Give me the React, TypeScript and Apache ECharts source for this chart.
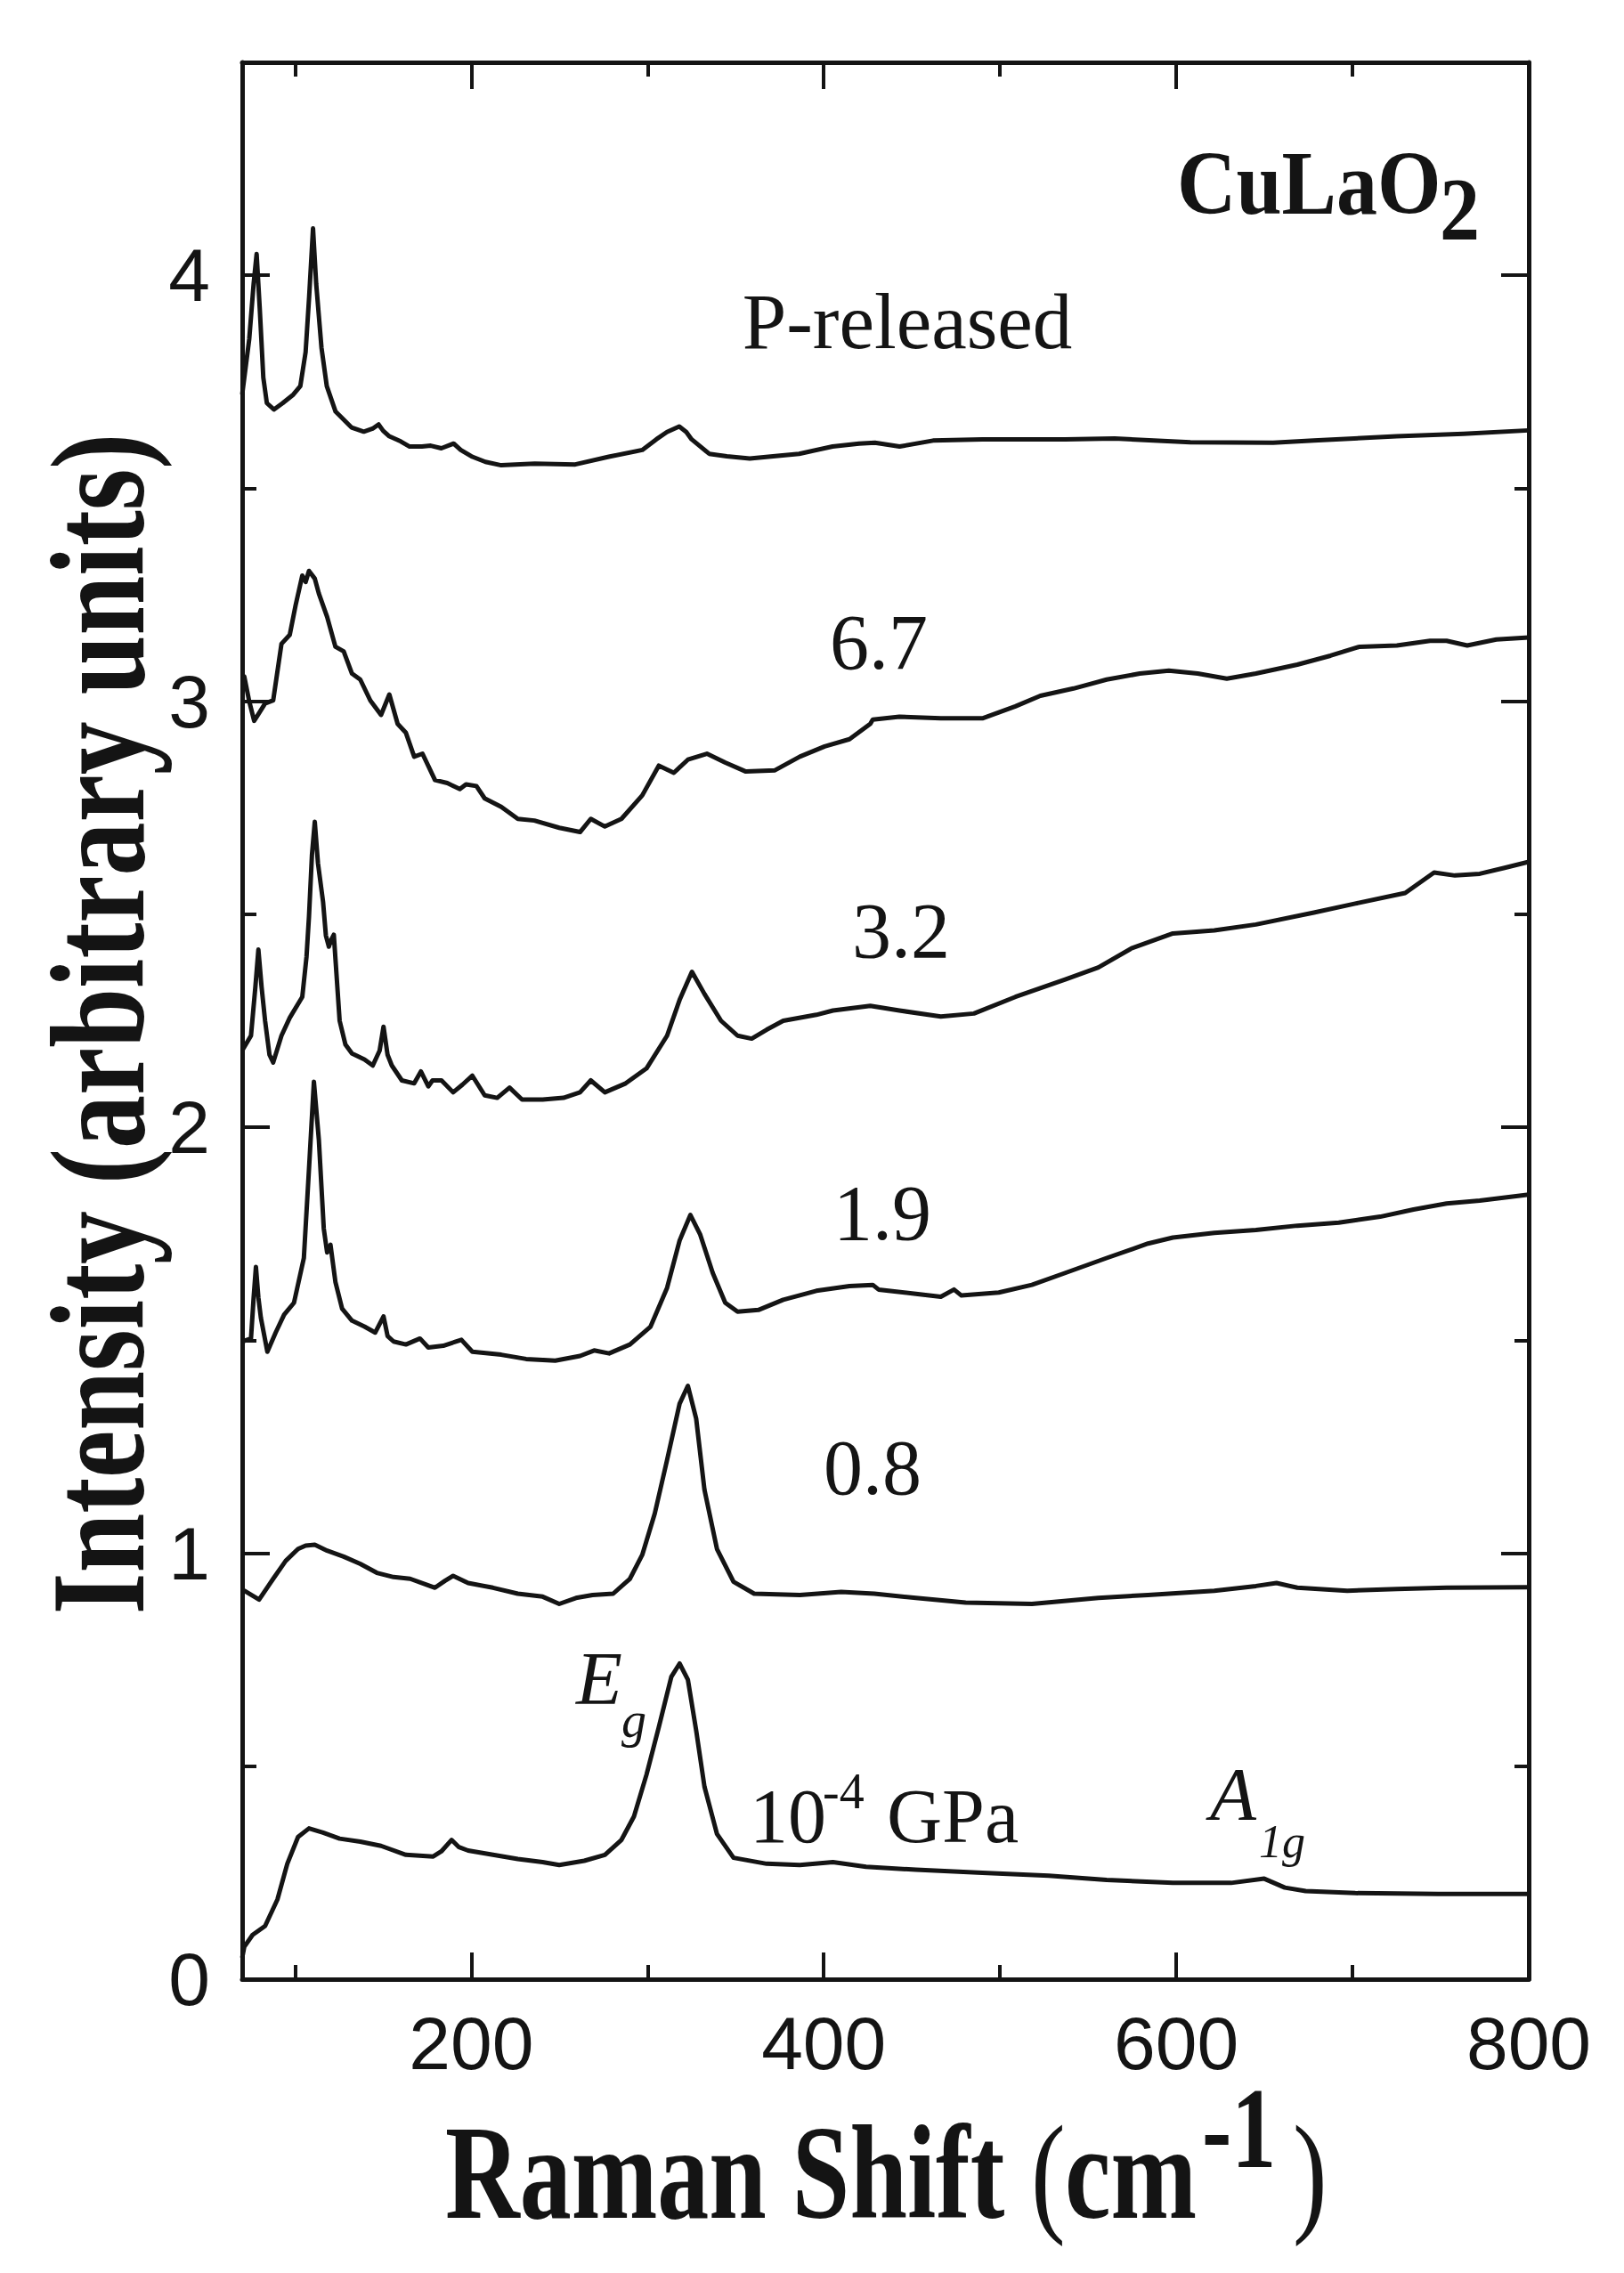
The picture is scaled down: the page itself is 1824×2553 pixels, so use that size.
import React, { useEffect, useRef } from "react";
import * as echarts from "echarts";

// ---- axes ----
const xMin = 70;
const xMax = 800;
const yMin = 0;
const yMax = 4.5;
const xLabelValues = [200, 400, 600, 800];
const xMajorTicks = [200, 400, 600];
const xMinorTicks = [100, 300, 500, 700];
const yLabelValues = [0, 1, 2, 3, 4];
const yMajorTicks = [1, 2, 3, 4];
const yMinorTicks = [0.5, 1.5, 2.5, 3.5];

// ---- spectra: [Raman shift (cm-1), intensity (a.u., offset)] ----
const pReleased = [
  [70, 3.72], [74, 3.85], [76.5, 3.98], [78.2, 4.05], [80, 3.92], [82, 3.76], [84, 3.7], [88, 3.685],
  [93, 3.7], [99, 3.72], [103, 3.74], [106, 3.82], [108, 3.95], [110.2, 4.11], [112, 3.98], [115, 3.83],
  [118, 3.74], [123, 3.68], [132, 3.643], [139, 3.633], [144, 3.64], [147.4, 3.65], [150, 3.635],
  [153.5, 3.622], [160, 3.61], [165, 3.598], [172, 3.598], [177, 3.6], [183, 3.594], [190, 3.605],
  [194, 3.59], [200.6, 3.574], [208, 3.562], [217, 3.554], [236, 3.558], [259, 3.556], [278, 3.574],
  [297, 3.59], [305, 3.615], [311, 3.632], [318, 3.645], [322, 3.632], [325, 3.615], [335, 3.581],
  [345, 3.575], [358, 3.57], [386, 3.581], [405, 3.598], [420, 3.605], [429, 3.607], [443, 3.598],
  [462, 3.612], [490, 3.615], [537, 3.615], [565, 3.617], [608, 3.608], [655, 3.607], [678, 3.612],
  [725, 3.622], [763, 3.628], [800, 3.636],
];

const p67 = [
  [70, 3.06], [71.2, 3.058], [74, 3.0], [76.8, 2.954], [80, 2.975], [83, 2.995], [87.6, 3.002],
  [92.3, 3.135], [97, 3.156], [100.3, 3.225], [104.1, 3.295], [106, 3.28], [107.9, 3.306], [111.2, 3.288],
  [113.5, 3.253], [118.2, 3.198], [122.9, 3.128], [127.6, 3.117], [132.3, 3.065], [137, 3.051],
  [142.7, 3.002], [148.8, 2.968], [153.5, 3.016], [158.2, 2.947], [162.9, 2.926], [167.6, 2.87],
  [172.3, 2.877], [179.4, 2.815], [186.4, 2.808], [193.5, 2.794], [197, 2.805], [202.9, 2.801],
  [207.6, 2.772], [217, 2.752], [226.4, 2.724], [235.8, 2.72], [249.9, 2.703], [261.7, 2.693],
  [267.8, 2.724], [275.8, 2.706], [285.2, 2.724], [297, 2.779], [306.4, 2.849], [314.9, 2.832],
  [322.9, 2.863], [333.7, 2.877], [344.1, 2.856], [355.8, 2.835], [372.3, 2.838], [386.4, 2.87],
  [400.5, 2.894], [414.6, 2.911], [426.4, 2.947], [427.8, 2.957], [442.9, 2.964], [466.4, 2.96],
  [490, 2.96], [508.7, 2.988], [522.9, 3.013], [541.7, 3.03], [560.5, 3.051], [579.3, 3.065],
  [595.8, 3.072], [612.2, 3.065], [628.7, 3.053], [645.2, 3.065], [668.7, 3.086], [687.5, 3.107],
  [704, 3.128], [725.2, 3.131], [744, 3.142], [753.4, 3.142], [765.1, 3.131], [781.6, 3.145], [800, 3.15],
];

const p32 = [
  [70, 2.18], [75, 2.215], [77.5, 2.33], [79.2, 2.417], [81, 2.33], [83, 2.25], [85.5, 2.17], [87.6, 2.152],
  [92.3, 2.215], [97, 2.257], [104.1, 2.306], [106.5, 2.4], [107.9, 2.494], [109.6, 2.64], [111.2, 2.717],
  [113, 2.62], [115.9, 2.529], [117.5, 2.45], [119.2, 2.424], [120.5, 2.44], [122, 2.452], [123.5, 2.36],
  [125.3, 2.25], [128.6, 2.194], [132.3, 2.173], [139.4, 2.159], [144.1, 2.145], [148, 2.18], [150.2, 2.236],
  [152.5, 2.17], [154.9, 2.145], [160.6, 2.11], [167.6, 2.103], [171.4, 2.131], [175.6, 2.096], [178, 2.11],
  [183.1, 2.11], [189.7, 2.082], [195, 2.1], [200.6, 2.121], [207.6, 2.075], [214.7, 2.069], [221.7, 2.093],
  [228.8, 2.065], [240.5, 2.065], [252.3, 2.069], [261.7, 2.082], [267.8, 2.11], [275.8, 2.082],
  [287.6, 2.103], [299.4, 2.138], [311.1, 2.215], [318.2, 2.299], [325.2, 2.365], [332.3, 2.313],
  [341.7, 2.25], [351.1, 2.215], [359.1, 2.208], [367.6, 2.229], [377, 2.25], [395.8, 2.264],
  [405.2, 2.274], [426.4, 2.285], [442.9, 2.274], [466.4, 2.26], [485.2, 2.267], [508.7, 2.306],
  [537, 2.347], [555.8, 2.375], [574.6, 2.42], [598.1, 2.455], [621.6, 2.462], [645.2, 2.476],
  [678.1, 2.504], [701.6, 2.525], [729.9, 2.55], [746.3, 2.598], [758.1, 2.591], [772.2, 2.595],
  [786.3, 2.609], [800, 2.623],
];

const p19 = [
  [70, 1.497], [75, 1.504], [76.5, 1.6], [77.8, 1.672], [79.2, 1.6], [80.6, 1.553], [84.3, 1.473],
  [89, 1.518], [93.8, 1.56], [99.4, 1.588], [105, 1.693], [107.9, 1.901], [110.7, 2.107], [113.5, 1.971],
  [116.3, 1.762], [118.2, 1.706], [120.1, 1.724], [122.9, 1.637], [126.7, 1.574], [132.3, 1.546],
  [139.4, 1.532], [145.5, 1.518], [150.2, 1.556], [152.5, 1.51], [155.9, 1.497], [162.9, 1.49],
  [170.9, 1.504], [175.6, 1.483], [184.1, 1.487], [194.4, 1.501], [200.6, 1.473], [217, 1.466],
  [231.1, 1.456], [247.6, 1.452], [261.7, 1.463], [269.7, 1.476], [278.2, 1.469], [290, 1.49],
  [301.7, 1.532], [311.1, 1.623], [318.2, 1.734], [324.3, 1.794], [329.9, 1.748], [337, 1.658],
  [344.1, 1.588], [351.1, 1.567], [362.9, 1.571], [377, 1.595], [395.8, 1.616], [414.6, 1.627],
  [427.8, 1.63], [431.1, 1.619], [452.3, 1.609], [466.4, 1.602], [473.9, 1.619], [478.1, 1.605],
  [499.3, 1.612], [518.1, 1.63], [537, 1.658], [560.5, 1.693], [584, 1.727], [598.1, 1.741],
  [621.6, 1.752], [645.2, 1.759], [668.7, 1.769], [692.2, 1.776], [715.7, 1.79], [734.6, 1.807],
  [753.4, 1.821], [772.2, 1.828], [800, 1.842],
];

const p08 = [
  [70, 0.912], [71.2, 0.912], [79.6, 0.891], [87.6, 0.94], [94.7, 0.982], [101.7, 1.01], [106, 1.018],
  [111.2, 1.02], [118.2, 1.006], [127.6, 0.992], [137, 0.975], [146.4, 0.954], [155.9, 0.944],
  [165.3, 0.94], [179.4, 0.919], [185, 0.935], [189.7, 0.947], [198.2, 0.93], [212.3, 0.919],
  [226.4, 0.905], [240.5, 0.898], [249.9, 0.881], [259.4, 0.895], [268.8, 0.902], [280.5, 0.905],
  [290, 0.94], [297, 0.996], [304.1, 1.093], [311.1, 1.219], [318.2, 1.351], [322.9, 1.393],
  [327.6, 1.316], [332.3, 1.149], [339.4, 1.01], [348.8, 0.933], [360.5, 0.905], [386.4, 0.902],
  [409.9, 0.909], [428.7, 0.905], [452.3, 0.895], [480.5, 0.884], [518.1, 0.881], [555.8, 0.895],
  [584, 0.902], [621.6, 0.912], [645.2, 0.923], [656.9, 0.93], [668.7, 0.919], [697, 0.912],
  [725.2, 0.916], [753.4, 0.919], [800, 0.92],
];

const pAmbient = [
  [70, 0.05], [71.2, 0.076], [75.9, 0.104], [83, 0.125], [90, 0.187], [95.6, 0.271], [101.7, 0.334],
  [107.9, 0.354], [115.9, 0.344], [125.3, 0.33], [137, 0.323], [148.8, 0.313], [162.9, 0.292],
  [178.4, 0.288], [183, 0.3], [188.8, 0.327], [193, 0.31], [198.2, 0.302], [212.3, 0.292],
  [226.4, 0.282], [240.5, 0.275], [249.9, 0.268], [264.1, 0.278], [275.8, 0.292], [285.2, 0.327],
  [292.3, 0.382], [299.4, 0.48], [306.4, 0.592], [313.5, 0.71], [318.2, 0.741], [322.9, 0.703],
  [327.6, 0.584], [332.3, 0.452], [339.4, 0.341], [348.8, 0.285], [367.6, 0.271], [386.4, 0.268],
  [405.2, 0.275], [424, 0.264], [452.3, 0.257], [490, 0.25], [527.6, 0.243], [560.5, 0.233],
  [598.1, 0.226], [631.1, 0.226], [649.9, 0.236], [661.6, 0.215], [673.4, 0.207], [701.6, 0.202],
  [748.7, 0.2], [800, 0.2],
];

const seriesNames = ["10-4 GPa", "0.8 GPa", "1.9 GPa", "3.2 GPa", "6.7 GPa", "P-released"];
const seriesData = [pAmbient, p08, p19, p32, p67, pReleased];

const INK = "#141414";
const SANS = "'Liberation Sans', Arial, sans-serif";
const SERIF = "'Liberation Serif', 'Times New Roman', serif";

function xAxisDef(position: string, showLine: boolean, ticks: number[], len: number, labels?: number[]) {
  return {
    type: "value",
    position,
    min: xMin,
    max: xMax,
    axisLine: { show: showLine, onZero: false, lineStyle: { color: INK, width: 5 } },
    axisTick: { show: true, inside: true, length: len, customValues: ticks, lineStyle: { color: INK, width: 4 } },
    axisLabel: labels
      ? { show: true, customValues: labels, color: INK, fontFamily: SANS, fontSize: 84, margin: 30, showMaxLabel: true, showMinLabel: true }
      : { show: false },
    splitLine: { show: false },
  };
}

function yAxisDef(position: string, showLine: boolean, ticks: number[], len: number, labels?: number[]) {
  return {
    type: "value",
    position,
    min: yMin,
    max: yMax,
    axisLine: { show: showLine, onZero: false, lineStyle: { color: INK, width: 5 } },
    axisTick: { show: true, inside: true, length: len, customValues: ticks, lineStyle: { color: INK, width: 4 } },
    axisLabel: labels
      ? { show: true, customValues: labels, color: INK, fontFamily: SANS, fontSize: 84, margin: 36, showMaxLabel: true, showMinLabel: true }
      : { show: false },
    splitLine: { show: false },
  };
}

function txt(text: string, x: number, y: number, font: string, align = "left", rotation = 0, scaleY = 1) {
  return {
    type: "text",
    x,
    y,
    rotation,
    scaleY,
    silent: true,
    style: { text, font, fill: INK, textAlign: align, textVerticalAlign: "middle" },
  };
}

export default function App() {
  const ref = useRef<HTMLDivElement>(null);

  useEffect(() => {
    if (!ref.current) return;
    const chart = echarts.init(ref.current, null, { renderer: "svg" });
    const option: any = {
      animation: false,
      backgroundColor: "#ffffff",
      grid: { left: 272, right: 107, top: 70, bottom: 330, containLabel: false },
      xAxis: [
        xAxisDef("bottom", true, xMajorTicks, 30, xLabelValues),
        xAxisDef("bottom", false, xMinorTicks, 16),
        xAxisDef("top", true, xMajorTicks, 30),
        xAxisDef("top", false, xMinorTicks, 16),
      ],
      yAxis: [
        yAxisDef("left", true, yMajorTicks, 31, yLabelValues),
        yAxisDef("left", false, yMinorTicks, 16),
        yAxisDef("right", true, yMajorTicks, 31),
        yAxisDef("right", false, yMinorTicks, 16),
      ],
      series: seriesData.map((d, i) => ({
        name: seriesNames[i],
        type: "line",
        xAxisIndex: 0,
        yAxisIndex: 0,
        data: d,
        showSymbol: false,
        symbol: "none",
        clip: true,
        silent: true,
        lineStyle: { color: INK, width: 5, join: "round" },
      })),
      graphic: [
        // axis titles
        txt("Intensity (arbitrary units)", 110, 1150, `bold 120px ${SERIF}`, "center", Math.PI / 2, 1.25),
        txt("Raman Shift", 500, 2440, `bold 116px ${SERIF}`, "left", 0, 1.3),
        txt("(", 1158, 2440, `116px ${SERIF}`, "left", 0, 1.3),
        txt("cm", 1196, 2440, `bold 116px ${SERIF}`, "left", 0, 1.3),
        txt("-1", 1350, 2390, `bold 100px ${SERIF}`, "left", 0, 1.3),
        txt(")", 1452, 2440, `116px ${SERIF}`, "left", 0, 1.3),
        // compound label
        txt("CuLaO", 1322, 206, `bold 92px ${SERIF}`, "left", 0, 1.1),
        txt("2", 1617, 235, `bold 90px ${SERIF}`, "left", 0, 1.1),
        // pressure labels
        txt("P-released", 1019, 361, `89px ${SERIF}`, "center"),
        txt("6.7", 987, 721, `88px ${SERIF}`, "center"),
        txt("3.2", 1012, 1045, `88px ${SERIF}`, "center"),
        txt("1.9", 991, 1362, `88px ${SERIF}`, "center"),
        txt("0.8", 980, 1648, `88px ${SERIF}`, "center"),
        txt("10", 842, 2040, `86px ${SERIF}`),
        txt("-4", 924, 2012, `56px ${SERIF}`),
        txt("GPa", 996, 2040, `86px ${SERIF}`),
        // mode labels
        txt("E", 647, 1885, `italic 85px ${SERIF}`),
        txt("g", 698, 1932, `italic 56px ${SERIF}`),
        txt("A", 1359, 2015, `italic 85px ${SERIF}`),
        txt("1g", 1414, 2068, `italic 52px ${SERIF}`),
      ],
    };
    chart.setOption(option);
    return () => chart.dispose();
  }, []);

  return (
    <div
      ref={ref}
      style={{ position: "absolute", left: 0, top: 0, width: 1824, height: 2553, background: "#ffffff" }}
    />
  );
}
